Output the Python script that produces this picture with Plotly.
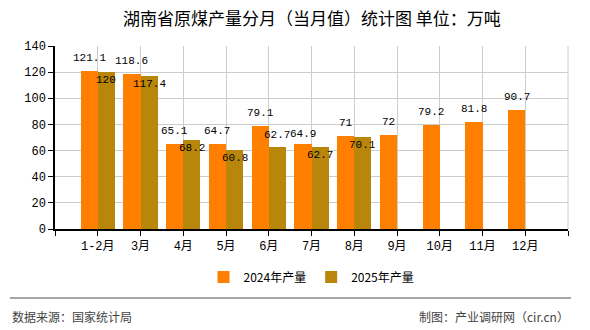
import plotly.graph_objects as go

categories = ["1-2月", "3月", "4月", "5月", "6月", "7月", "8月", "9月", "10月", "11月", "12月"]
values_2024 = [121.1, 118.6, 65.1, 64.7, 79.1, 64.9, 71, 72, 79.2, 81.8, 90.7]
values_2025 = [120, 117.4, 68.2, 60.8, 62.7, 62.7, 70.1]
series_names = ["2024年产量", "2025年产量"]
y_ticks = [0, 20, 40, 60, 80, 100, 120, 140]

title_text = "湖南省原煤产量分月（当月值）统计图 单位：万吨"
source_text = "数据来源：国家统计局"
maker_text = "制图：产业调研网（cir.cn）"

C24 = "#FF8000"
C25 = "#B8860B"
FONT = "Liberation Mono, Noto Sans CJK SC, monospace"
CJK = "Noto Sans CJK SC, sans-serif"

W, H = 590, 330
L, R, T, B = 55, 22, 46, 101
plot_h = H - T - B
plot_w = W - L - R

x24 = list(range(len(values_2024)))
x25 = list(range(len(values_2025)))

fig = go.Figure()
fig.add_trace(go.Bar(x=x24, y=values_2024, name=series_names[0], marker_color=C24,
                     width=0.4, offset=-0.4, marker_line_width=0))
fig.add_trace(go.Bar(x=x25, y=values_2025, name=series_names[1], marker_color=C25,
                     width=0.4, offset=0.0, marker_line_width=0))

ann = []
for xi, v in zip(x24, values_2024):
    shift = 10 if xi == 5 else 13
    ann.append(dict(x=xi - 0.2, y=v, text=f"{v:g}", showarrow=False, xref="x", yref="y",
                    yshift=shift, font=dict(family=FONT, size=11, color="#000")))
for xi, v in zip(x25, values_2025):
    shift = 12 if xi == 4 else -8
    ann.append(dict(x=xi + 0.2, y=v, text=f"{v:g}", showarrow=False, xref="x", yref="y",
                    yshift=shift, font=dict(family=FONT, size=11, color="#000")))

# title
ann.append(dict(x=0.5, y=(H - B - 17) / plot_h, xref="paper", yref="paper", text=title_text,
                showarrow=False, font=dict(family=CJK, size=17, color="#000"),
                xanchor="center", yanchor="middle"))
# footer
foot_y = (H - B - 316) / plot_h
ann.append(dict(x=(10 - L) / plot_w, y=foot_y, xref="paper", yref="paper", text=source_text,
                showarrow=False, xanchor="left", yanchor="middle",
                font=dict(family=CJK, size=12, color="#444")))
ann.append(dict(x=(571 - L) / plot_w, y=foot_y, xref="paper", yref="paper", text=maker_text,
                showarrow=False, xanchor="right", yanchor="middle",
                font=dict(family=CJK, size=12, color="#444")))

line_y = (H - B - 298) / plot_h
shapes = [
    dict(type="line", xref="paper", yref="paper", x0=(10 - L) / plot_w, x1=(571 - L) / plot_w,
         y0=line_y, y1=line_y, line=dict(color="#888", width=1.5)),
    dict(type="line", xref="paper", yref="paper", x0=1, x1=1, y0=0, y1=1,
         line=dict(color="#cccccc", width=1), layer="below"),
]

tickvals = list(range(-1, len(categories) + 1))
ticktext = [""] + categories + [""]

fig.update_layout(
    width=W, height=H,
    margin=dict(l=L, r=R, t=T, b=B),
    paper_bgcolor="white", plot_bgcolor="white",
    showlegend=True,
    legend=dict(orientation="h", x=0.5, xanchor="center", y=(H - B - 277) / plot_h,
                yanchor="middle", font=dict(family=CJK, size=12, color="#000"),
                itemwidth=30, tracegroupgap=0),
    annotations=ann, shapes=shapes,
    bargap=0,
    xaxis=dict(range=[-1, len(categories)], tickmode="array", tickvals=tickvals, ticktext=ticktext,
               showgrid=True, gridcolor="#cccccc", gridwidth=1, showline=True, linecolor="#000",
               linewidth=1.5, ticks="outside", ticklen=5, tickcolor="#000", zeroline=False,
               tickfont=dict(family=FONT, size=12, color="#000")),
    yaxis=dict(range=[0, 140], tickmode="array", tickvals=y_ticks, showgrid=True,
               gridcolor="#cccccc", gridwidth=1, showline=True, linecolor="#000", linewidth=1.5,
               ticks="outside", ticklen=5, tickcolor="#000", zeroline=False,
               tickfont=dict(family=FONT, size=12, color="#000")),
)

fig.write_html("out.html")
